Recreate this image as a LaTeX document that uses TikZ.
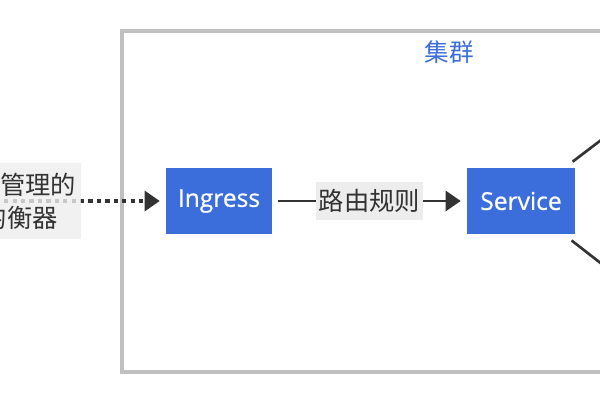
\documentclass[tikz,border=0pt]{standalone}
\usepackage{fontspec}
\setmainfont{Open Sans}
\newfontfamily\boxfont[FakeBold=0.7]{Open Sans}
\newfontfamily\cjk{Noto Sans CJK SC}
\usetikzlibrary{arrows.meta}
\usetikzlibrary{positioning}
\definecolor{kblue}{HTML}{3C6EDB}
\definecolor{kgray}{HTML}{C0C0C0}
\definecolor{kdark}{HTML}{333333}
\definecolor{klabel}{HTML}{EDEDED}

\begin{document}
\begin{tikzpicture}[x=0.025cm, y=-0.025cm,
  box/.style={fill=kblue, text=white, inner sep=0pt, minimum width=2.65cm, minimum height=1.65cm, font=\boxfont\fontsize{17.5}{20}\selectfont},
  lbl/.style={fill=klabel, text=kdark, inner xsep=2pt, inner ysep=5pt, font=\cjk\fontsize{18}{23.5}\selectfont},
  link/.style={draw=kdark, line width=1.9pt, -{Triangle[length=0.375cm,width=0.5cm]}, shorten >=0.15cm, shorten <=0.15cm},
  dots/.style={link, line width=2.2pt, dash pattern=on 3pt off 3pt}]

\useasboundingbox (0,0) rectangle (600,400);
\clip (0,0) rectangle (600,400);

%cluster
\draw[kgray, line width=2.2pt] (122,31) rectangle (640,372);
\node[text=kblue, font=\cjk\fontsize{17.5}{20}\selectfont] (title) at (449,52) {集群};

\node[box] (ingress) at (219,201) {Ingress};
\node[box, minimum width=2.7cm] (service) at (521,201) {Service};

%ends outside the picture
\coordinate (lb) at (-120,201);
\coordinate (podA) at (680,80);
\coordinate (podB) at (680,325);

\draw[dots] (lb) -- (ingress);
\node[lbl, anchor=west, align=left, inner xsep=0.12cm, inner ysep=7pt, fill opacity=0.8, text opacity=1] (lbtext) at (-5,201) {管理的\\\hspace*{-0.72em}均衡器};

\draw[link] (ingress) -- node[lbl] (rule) {路由规则} (service);

\draw[link, shorten <=0.25cm] (service) -- (podA);
\draw[link, shorten <=0.25cm] (service) -- (podB);

%\node at (300,390){};
\end{tikzpicture}
\end{document}
